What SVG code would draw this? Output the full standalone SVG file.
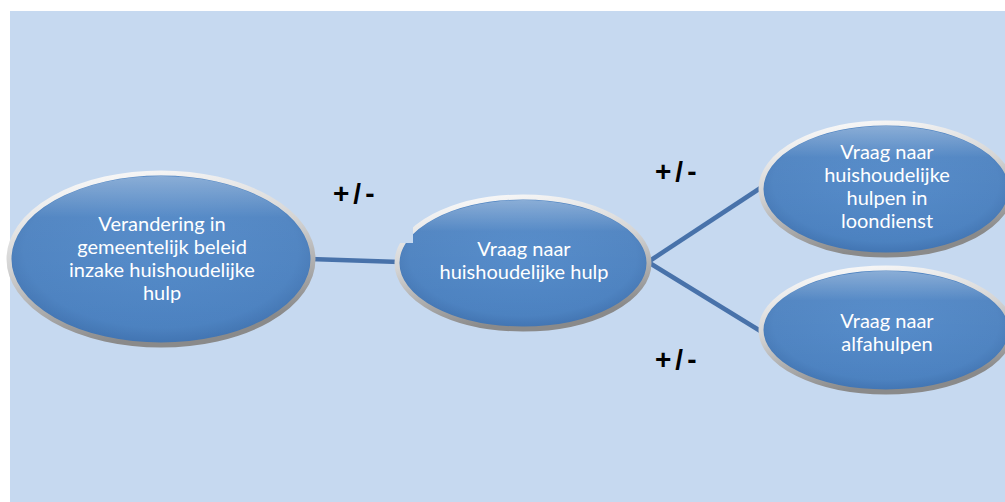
<svg xmlns="http://www.w3.org/2000/svg" width="1005" height="502" viewBox="0 0 1005 502">
<defs>
<linearGradient id="rim" x1="0" y1="0" x2="0.3" y2="1">
<stop offset="0" stop-color="#ffffff"/>
<stop offset="0.5" stop-color="#d4d4d4"/>
<stop offset="1" stop-color="#8a8a8a"/>
</linearGradient>
<radialGradient id="fill" cx="0.5" cy="0.45" r="0.6">
<stop offset="0" stop-color="#5088c8"/>
<stop offset="0.75" stop-color="#4b81c0"/>
<stop offset="1" stop-color="#3c6ca8"/>
</radialGradient>
<linearGradient id="shine" x1="0" y1="0" x2="0" y2="1">
<stop offset="0" stop-color="#ffffff" stop-opacity="0.35"/>
<stop offset="0.25" stop-color="#ffffff" stop-opacity="0.05"/>
<stop offset="1" stop-color="#ffffff" stop-opacity="0"/>
</linearGradient>
</defs>
<style>
.bg{fill:#c6d9f0}
.node ellipse.b{fill:url(#fill);stroke:url(#rim);stroke-width:5}
.node ellipse.s{fill:url(#shine);stroke:none}
.node text{font-family:Lato,"Open Sans",sans-serif;font-size:20px;fill:#ffffff;text-anchor:middle}
.conn line{stroke:#4872aa;stroke-width:4.5;stroke-linecap:butt}
.lbl{font-family:"Liberation Sans",Arial,sans-serif;font-weight:bold;font-size:28px;letter-spacing:4px;fill:#000000}
</style>
<rect x="0" y="0" width="1005" height="502" fill="#ffffff"/>
<rect class="bg" x="10" y="11" width="995" height="491"/>
<g class="conn" id="connectors">
<line x1="310" y1="259" x2="400" y2="262"/>
<line x1="648" y1="262" x2="762" y2="187"/>
<line x1="648" y1="262" x2="762" y2="332"/>
</g>
<g class="node" id="n1">
<ellipse class="b" cx="161" cy="259" rx="152" ry="86"/>
<ellipse class="s" cx="161" cy="259" rx="149" ry="83"/>
<text x="162" y="231">Verandering in</text>
<text x="162" y="254">gemeentelijk beleid</text>
<text x="162" y="277">inzake huishoudelijke</text>
<text x="162" y="300">hulp</text>
</g>
<g class="node" id="n2">
<ellipse class="b" cx="523" cy="263" rx="126" ry="66"/>
<ellipse class="s" cx="523" cy="263" rx="123" ry="63"/>
<rect class="bg" x="392" y="212" width="21" height="31"/>
<text x="524" y="256">Vraag naar</text>
<text x="524" y="279">huishoudelijke hulp</text>
</g>
<g class="node" id="n3">
<ellipse class="b" cx="886" cy="189" rx="125" ry="66"/>
<ellipse class="s" cx="886" cy="189" rx="122" ry="63"/>
<text x="887" y="159">Vraag naar</text>
<text x="887" y="182">huishoudelijke</text>
<text x="887" y="205">hulpen in</text>
<text x="887" y="228">loondienst</text>
</g>
<g class="node" id="n4">
<ellipse class="b" cx="886" cy="330" rx="125" ry="62"/>
<ellipse class="s" cx="886" cy="330" rx="122" ry="59"/>
<text x="887" y="328">Vraag naar</text>
<text x="887" y="351">alfahulpen</text>
</g>
<g id="labels">
<text class="lbl" x="333" y="203">+/-</text>
<text class="lbl" x="655" y="181">+/-</text>
<text class="lbl" x="655" y="369">+/-</text>
</g>
</svg>
